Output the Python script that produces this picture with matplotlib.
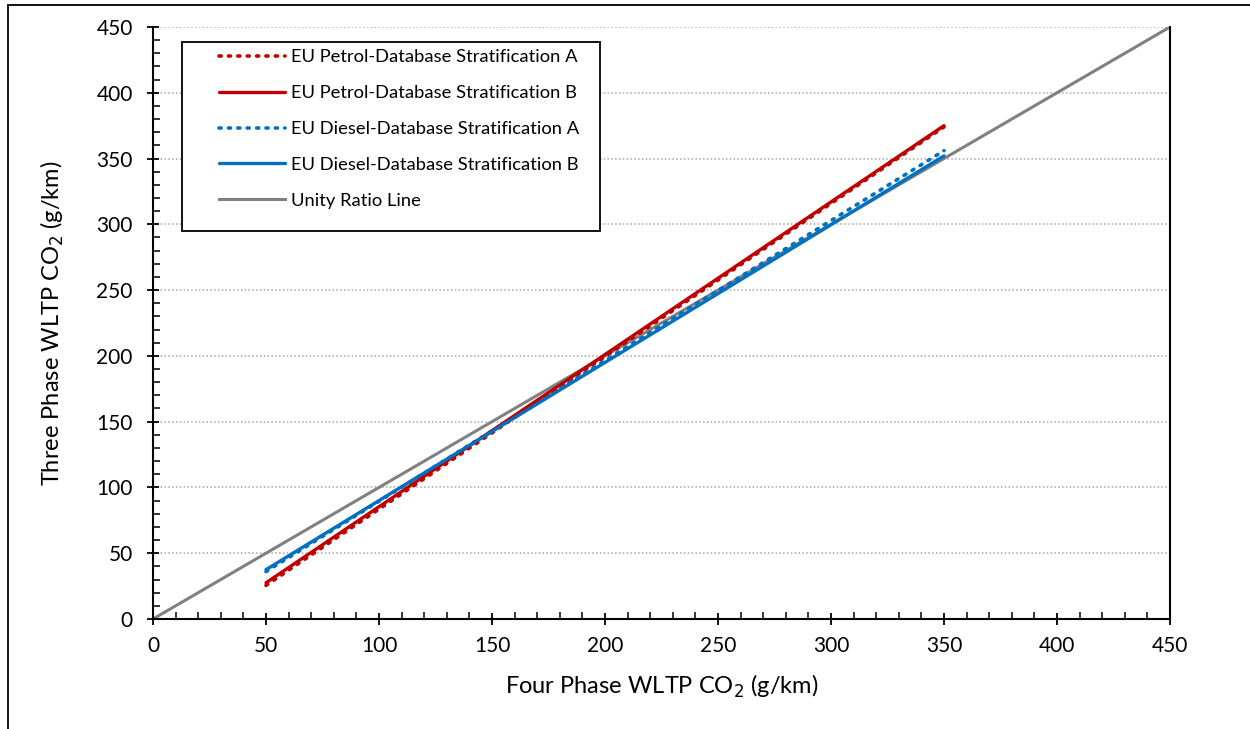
import matplotlib
matplotlib.use("Agg")
import matplotlib.pyplot as plt
from matplotlib.patches import Rectangle
from matplotlib.ticker import MultipleLocator

plt.rcParams['font.family'] = ['Lato', 'DejaVu Sans']

# data (g/km)
four_phase = [50, 200, 350]
petrol_a = [25.5, 199.5, 374]
petrol_b = [27.5, 201, 375]
diesel_a = [36, 196.5, 356]
diesel_b = [37.5, 195, 352]
unity = [0, 450]

red = '#C00000'
blue = '#0070C0'
grey = '#808080'
dots = (0, (0.6, 2.0))

fig = plt.figure(figsize=(12.5, 7.29), dpi=100)
ax = fig.add_axes([0.1224, 0.1509, 0.8136, 0.8121])

ax.plot(four_phase, petrol_a, color=red, lw=2.6, ls=dots, dash_capstyle='round',
        label='EU Petrol-Database Stratification A', zorder=3)
ax.plot(four_phase, petrol_b, color=red, lw=2.4, solid_capstyle='round',
        label='EU Petrol-Database Stratification B', zorder=4)
ax.plot(four_phase, diesel_a, color=blue, lw=2.6, ls=dots, dash_capstyle='round',
        label='EU Diesel-Database Stratification A', zorder=3)
ax.plot(four_phase, diesel_b, color=blue, lw=2.4, solid_capstyle='round',
        label='EU Diesel-Database Stratification B', zorder=4)
ax.plot(unity, unity, color=grey, lw=2.2, label='Unity Ratio Line', zorder=2)

ax.set_xlim(0, 450)
ax.set_ylim(0, 450)
ax.xaxis.set_major_locator(MultipleLocator(50))
ax.xaxis.set_minor_locator(MultipleLocator(10))
ax.yaxis.set_major_locator(MultipleLocator(50))
ax.yaxis.set_minor_locator(MultipleLocator(10))
ax.tick_params(which='major', direction='inout', length=9, width=1.3, labelsize=15, pad=8)
ax.tick_params(which='minor', direction='in', length=5, width=1.1)
ax.tick_params(axis='y', which='major', pad=10)

ax.grid(axis='y', which='major', color='#A6A6A6', ls=(0, (1, 1.5)), lw=1.1)
ax.spines['top'].set_visible(False)
for s in ['left', 'bottom', 'right']:
    ax.spines[s].set_linewidth(1.5)
    ax.spines[s].set_color('black')

ax.set_xlabel('Four Phase WLTP CO$_2$ (g/km)', fontsize=17, labelpad=12)
ax.set_ylabel('Three Phase WLTP CO$_2$ (g/km)', fontsize=17, labelpad=22)

# legend box drawn separately so its padding matches the original
ax.add_patch(Rectangle((0.0285, 0.655), 0.411, 0.32, transform=ax.transAxes,
                       facecolor='white', edgecolor='black', lw=1.3, zorder=5))
leg = ax.legend(loc='upper left', bbox_to_anchor=(0.0649, 0.962), borderaxespad=0,
                fontsize=13.2, frameon=False, handlelength=3.6, handletextpad=0.35,
                labelspacing=1.08, borderpad=0)
leg.set_zorder(6)

fig.patches.append(Rectangle((8 / 1250, -0.1), 1.0, (729 - 5) / 729 + 0.1,
                             transform=fig.transFigure, fill=False,
                             edgecolor='black', lw=1.3))

fig.savefig('out.png', dpi=100)
